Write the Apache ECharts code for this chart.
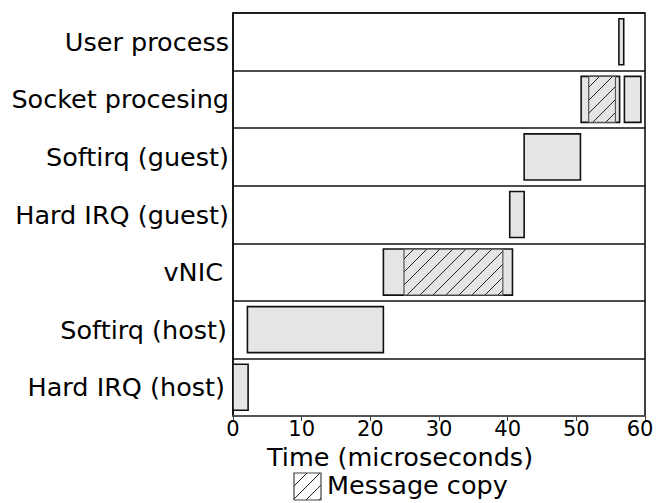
<!DOCTYPE html>
<html>
<head>
<meta charset="utf-8">
<script src="https://cdn.jsdelivr.net/npm/echarts@6/dist/echarts.min.js"></script>
<style>
  html, body { margin: 0; padding: 0; background: #fff; overflow: hidden; }
  #chart { width: 656px; height: 503px; }
</style>
</head>
<body>
<div id="chart"></div>
<script>
// Processing stages, listed bottom to top
const categories = [
  'Hard IRQ (host)',
  'Softirq (host)',
  'vNIC',
  'Hard IRQ (guest)',
  'Softirq (guest)',
  'Socket procesing',
  'User process'
];

// Busy intervals per stage (microseconds)
const spanCategory = [0, 1, 2, 3, 4, 5, 5, 6];
const spanStart    = [0, 2.1, 21.9, 40.3, 42.4, 50.7, 57.0, 56.2];
const spanEnd      = [2.2, 21.9, 40.7, 42.4, 50.6, 56.3, 59.4, 56.9];

// Portions of the intervals spent copying the message
const copyCategory = [2, 5];
const copyStart    = [24.9, 51.8];
const copyEnd      = [39.3, 55.7];

// Time axis ticks
const timeTicks = [0, 10, 20, 30, 40, 50, 60];

const FONT = 'DejaVu Sans';
const BIG = 25.5;
const BAR_FILL = '#e5e5e5';
const HATCH_GAP = 13;

// Extra gap between some stage names and the axis (px)
const labelGap = { 'vNIC': 6, 'Softirq (host)': 2, 'Hard IRQ (host)': 4 };

// Diagonal "/" hatch lines clipped to a rectangle
function hatchLines(x0, y0, w, h, color) {
  const x1 = x0 + w, y1 = y0 + h;
  const out = [];
  const cStart = Math.ceil((x0 + y0) / HATCH_GAP) * HATCH_GAP;
  for (let c = cStart; c <= x1 + y1; c += HATCH_GAP) {
    const xa = Math.max(x0, c - y1);
    const xb = Math.min(x1, c - y0);
    if (xb - xa < 0.5) continue;
    out.push({
      type: 'line',
      shape: { x1: xa, y1: c - xa, x2: xb, y2: c - xb },
      style: { stroke: color, lineWidth: 1 },
      silent: true
    });
  }
  return out;
}

function barRect(api) {
  const cat = api.value(0);
  const p0 = api.coord([api.value(1), cat]);
  const p1 = api.coord([api.value(2), cat]);
  const h = api.size([0, 1])[1] * 0.8;
  return { x: p0[0], y: p0[1] - h / 2, width: p1[0] - p0[0], height: h };
}

function renderSpan(params, api) {
  const r = barRect(api);
  return {
    type: 'rect',
    shape: r,
    style: { fill: BAR_FILL, stroke: '#111', lineWidth: 1.6 }
  };
}

function renderCopy(params, api) {
  const r = barRect(api);
  return {
    type: 'group',
    children: [
      { type: 'rect', shape: r, style: { fill: BAR_FILL, stroke: 'none' } },
      ...hatchLines(r.x, r.y, r.width, r.height, '#222'),
      { type: 'rect', shape: r, style: { fill: 'none', stroke: '#555', lineWidth: 1.2 } }
    ]
  };
}

const spanData = spanCategory.map((c, i) => [c, spanStart[i], spanEnd[i]]);
const copyData = copyCategory.map((c, i) => [c, copyStart[i], copyEnd[i]]);

// Legend swatch for the hatched portions
const legendBox = { x: 294, y: 473, w: 27, h: 27 };
const maxTick = timeTicks[timeTicks.length - 1];

const labelRich = { base: { fontSize: BIG, fontFamily: FONT, color: '#000' } };
Object.keys(labelGap).forEach((name, i) => {
  labelRich['g' + i] = { fontSize: BIG, fontFamily: FONT, color: '#000', padding: [0, labelGap[name], 0, 0] };
});

const chart = echarts.init(document.getElementById('chart'), null, { renderer: 'svg' });
chart.setOption({
  animation: false,
  backgroundColor: '#fff',
  grid: {
    left: 233, right: 11, top: 13, bottom: 87,
    containLabel: false,
    outerBoundsMode: 'none',
    show: true, borderColor: '#111', borderWidth: 1.6, backgroundColor: 'transparent'
  },
  xAxis: {
    type: 'value',
    min: timeTicks[0],
    max: maxTick,
    interval: timeTicks[1] - timeTicks[0],
    axisLine: { show: true, lineStyle: { color: '#666', width: 1.6 } },
    axisTick: { show: true, length: 5, lineStyle: { color: '#444', width: 1 } },
    axisLabel: {
      color: '#000', fontSize: 21, fontFamily: FONT, margin: 2,
      // keep the last label inside the page edge
      formatter: v => (v === maxTick ? '{last|' + v + '}' : String(v)),
      rich: { last: { fontSize: 21, fontFamily: FONT, color: '#000', padding: [0, 10, 0, 0] } }
    },
    splitLine: { show: false }
  },
  yAxis: {
    type: 'category',
    data: categories,
    boundaryGap: true,
    axisLine: { show: true, lineStyle: { color: '#111', width: 1.6 } },
    axisTick: { show: false },
    axisLabel: {
      color: '#000', fontSize: BIG, fontFamily: FONT, margin: 4,
      formatter: name => {
        const k = Object.keys(labelGap).indexOf(name);
        return '{' + (k < 0 ? 'base' : 'g' + k) + '|' + name + '}';
      },
      rich: labelRich
    },
    splitLine: { show: true, lineStyle: { color: '#111', width: 1.6 } }
  },
  series: [
    {
      type: 'custom',
      name: 'Busy',
      renderItem: renderSpan,
      encode: { x: [1, 2], y: 0 },
      data: spanData,
      z: 2
    },
    {
      type: 'custom',
      name: 'Message copy',
      renderItem: renderCopy,
      encode: { x: [1, 2], y: 0 },
      data: copyData,
      z: 3
    }
  ],
  graphic: [
    {
      type: 'text',
      left: 267, top: 444,
      style: { text: 'Time (microseconds)', fill: '#000', font: BIG + 'px "DejaVu Sans"' }
    },
    {
      type: 'group',
      children: [
        { type: 'rect', shape: { x: legendBox.x, y: legendBox.y, width: legendBox.w, height: legendBox.h },
          style: { fill: '#fff', stroke: 'none' } },
        ...hatchLines(legendBox.x, legendBox.y, legendBox.w, legendBox.h, '#222'),
        { type: 'rect', shape: { x: legendBox.x, y: legendBox.y, width: legendBox.w, height: legendBox.h },
          style: { fill: 'none', stroke: '#444', lineWidth: 1.2 } }
      ]
    },
    {
      type: 'text',
      left: 327, top: 472,
      style: { text: 'Message copy', fill: '#000', font: BIG + 'px "DejaVu Sans"' }
    }
  ]
});
</script>
</body>
</html>
